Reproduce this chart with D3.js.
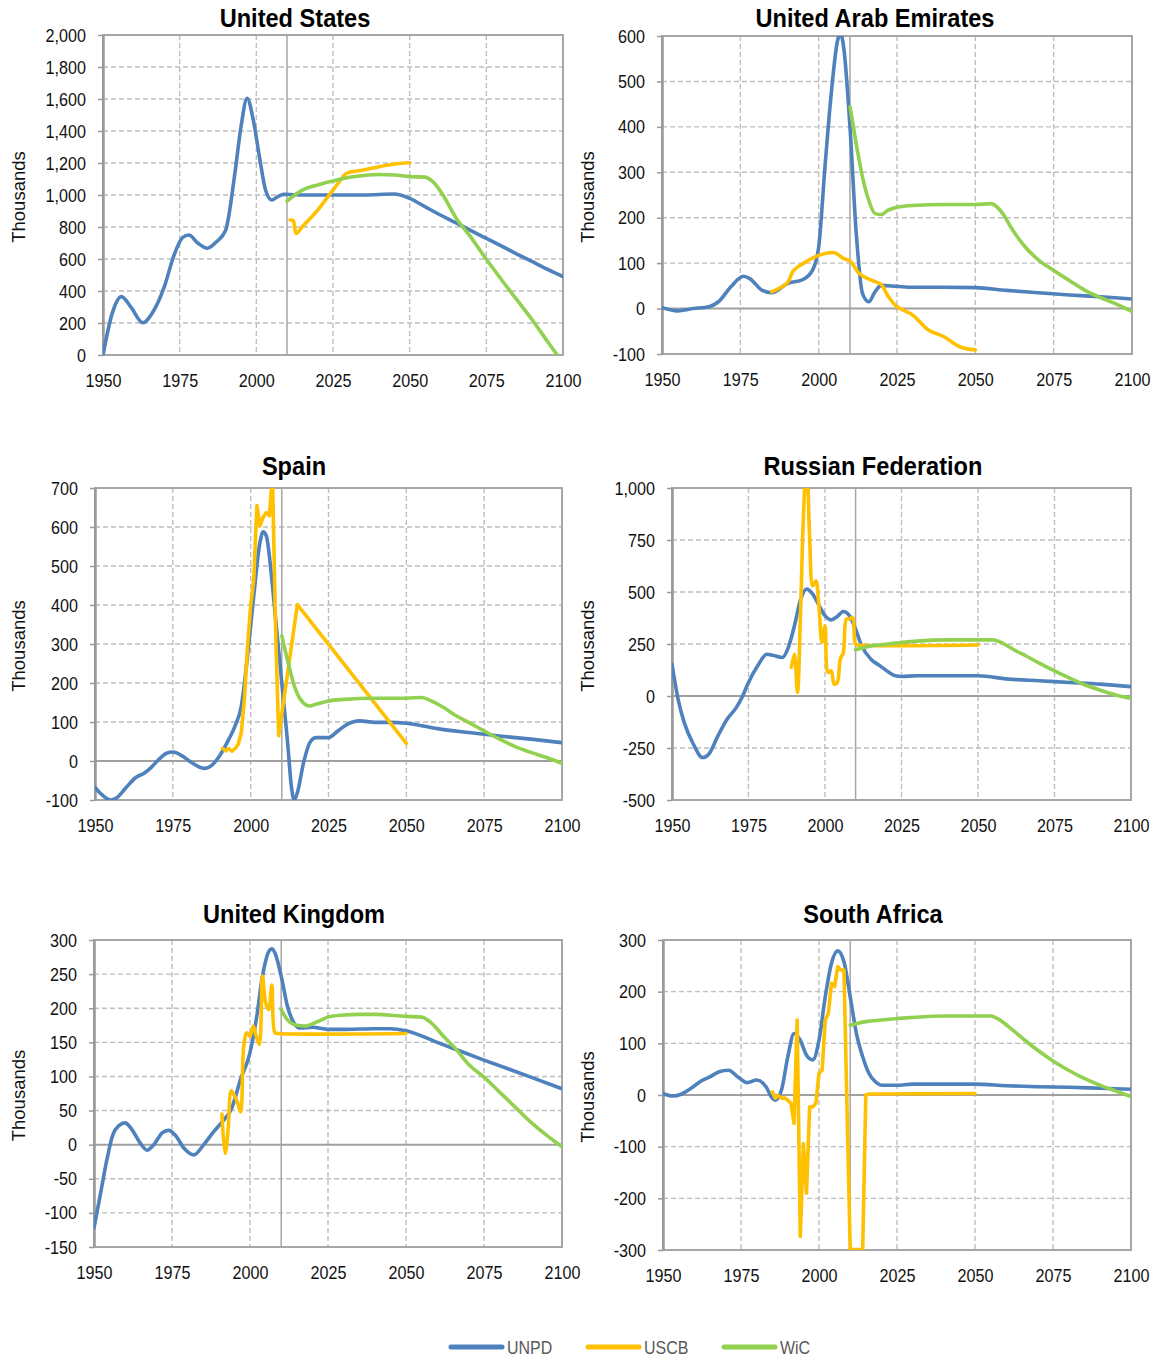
<!DOCTYPE html>
<html>
<head>
<meta charset="utf-8">
<script src="https://cdn.jsdelivr.net/npm/d3@7"></script>
<style>
  body { margin: 0; background: #fff; }
  svg text { font-family: "Liberation Sans", Arial, sans-serif; }
</style>
</head>
<body>
<svg id="chart" width="1159" height="1358"></svg>
<script>
// ---- data (thousands) ----
const seriesNames = ['UNPD', 'USCB', 'WiC'];
const xTicks = [1950, 1975, 2000, 2025, 2050, 2075, 2100];

const usTicks = [0, 200, 400, 600, 800, 1000, 1200, 1400, 1600, 1800, 2000];
const usUnpd = [[1950,0],[1953,260],[1956,365],[1959,302],[1963,202],[1966,260],[1970,427],[1973,615],[1976,735],[1978,750],[1981,698],[1984,667],[1987,708],[1990,781],[1993,1135],[1995,1427],[1997,1604],[1999,1469],[2001,1240],[2003,1031],[2005,969],[2007,990],[2009,1004],[2012,1002],[2015,1000],[2025,1000],[2035,1000],[2045,1006],[2050,979],[2055,927],[2060,875],[2065,827],[2070,777],[2075,729],[2080,681],[2085,631],[2090,583],[2095,535],[2100,490]];
const usUscb = [[2011,844],[2012,840],[2013,760],[2015,802],[2020,906],[2025,1031],[2029,1129],[2030,1140],[2035,1156],[2040,1177],[2045,1194],[2050,1202]];
const usWic = [[2010,962],[2015,1031],[2020,1063],[2025,1088],[2030,1110],[2035,1122],[2040,1128],[2045,1125],[2050,1115],[2055,1112],[2058,1075],[2061,995],[2065,860],[2070,735],[2075,598],[2080,469],[2085,344],[2090,219],[2095,83],[2100,-50]];

const uaeTicks = [-100, 0, 100, 200, 300, 400, 500, 600];
const uaeUnpd = [[1950,2],[1955,-5],[1960,0],[1965,4],[1968,15],[1972,48],[1976,71],[1978,66],[1982,40],[1985,35],[1990,55],[1995,64],[1998,84],[2000,135],[2002,311],[2004,472],[2006,589],[2007,605],[2008,574],[2010,399],[2012,165],[2014,33],[2016,15],[2018,37],[2020,51],[2025,49],[2030,47],[2040,47],[2050,46],[2060,40],[2070,35],[2080,30],[2090,26],[2100,21]];
const uaeUscb = [[1985,37],[1990,57],[1992,84],[1995,99],[2000,117],[2005,123],[2008,110],[2010,105],[2013,77],[2017,62],[2020,53],[2022,29],[2025,4],[2030,-14],[2035,-47],[2040,-62],[2045,-84],[2050,-91]];
const uaeWic = [[2010,444],[2012,362],[2014,289],[2016,238],[2018,209],[2020,207],[2022,216],[2025,223],[2030,227],[2040,229],[2050,229],[2055,231],[2058,216],[2062,172],[2066,135],[2070,108],[2075,84],[2080,62],[2085,40],[2090,24],[2095,10],[2100,-6]];

const esTicks = [-100, 0, 100, 200, 300, 400, 500, 600, 700];
const esUnpd = [[1950,-68],[1952,-85],[1955,-100],[1957,-94],[1960,-68],[1963,-43],[1966,-30],[1968,-17],[1970,0],[1973,20],[1975,23],[1978,13],[1981,-4],[1985,-19],[1987,-14],[1990,13],[1993,56],[1995,90],[1997,141],[1999,270],[2001,424],[2003,561],[2004,588],[2005,578],[2007,449],[2008,366],[2010,200],[2012,35],[2013,-60],[2014,-100],[2015,-81],[2017,-4],[2019,47],[2021,60],[2025,60],[2028,77],[2031,94],[2035,103],[2040,99],[2045,99],[2050,97],[2060,83],[2070,73],[2080,64],[2090,56],[2100,47]];
const esUscb = [[1991,32],[1992,26],[1993,32],[1994,25],[1995,32],[1996,43],[1997,73],[1998,159],[1999,295],[2000,398],[2001,466],[2002,655],[2003,603],[2004,625],[2005,637],[2006,629],[2007,730],[2008,340],[2009,65],[2015,401],[2050,45]];
const esWic = [[2010,321],[2012,253],[2014,193],[2016,158],[2019,141],[2020,143],[2023,150],[2025,154],[2030,158],[2040,161],[2050,161],[2055,163],[2058,154],[2062,137],[2066,116],[2070,99],[2075,77],[2080,56],[2085,37],[2090,22],[2095,9],[2100,-6]];

const ruTicks = [-500, -250, 0, 250, 500, 750, 1000];
const ruUnpd = [[1950,153],[1952,-16],[1954,-128],[1957,-232],[1960,-296],[1962,-280],[1965,-192],[1968,-112],[1971,-56],[1973,-3],[1975,65],[1978,145],[1981,201],[1983,196],[1986,185],[1988,233],[1990,337],[1992,463],[1994,514],[1996,490],[1998,437],[2000,386],[2002,366],[2004,382],[2006,406],[2008,386],[2010,321],[2012,241],[2015,177],[2018,145],[2021,113],[2023,97],[2025,94],[2030,97],[2040,97],[2050,97],[2060,81],[2070,73],[2080,65],[2090,57],[2100,45]];
const ruUscb = [[1989,137],[1990,201],[1991,17],[1992,402],[1993,883],[1994,1150],[1995,754],[1996,530],[1997,554],[1998,434],[1999,257],[2000,337],[2001,113],[2002,121],[2003,57],[2004,65],[2005,177],[2006,209],[2007,370],[2008,370],[2009,378],[2010,249],[2011,245],[2050,245]];
const ruWic = [[2010,222],[2015,241],[2020,249],[2025,257],[2030,264],[2040,270],[2050,270],[2055,270],[2058,254],[2062,220],[2066,190],[2070,158],[2075,121],[2080,86],[2085,53],[2090,28],[2095,5],[2100,-11]];

const ukTicks = [-150, -100, -50, 0, 50, 100, 150, 200, 250, 300];
const ukUnpd = [[1950,-122],[1952,-74],[1954,-25],[1956,14],[1958,28],[1960,32],[1962,23],[1965,1],[1967,-8],[1969,-1],[1972,18],[1974,21],[1976,14],[1979,-6],[1982,-15],[1985,-1],[1988,17],[1991,33],[1994,52],[1997,96],[2000,135],[2002,183],[2004,247],[2006,283],[2007,287],[2008,281],[2010,247],[2012,203],[2014,179],[2016,171],[2020,172],[2025,169],[2030,169],[2040,170],[2045,170],[2050,167],[2060,150],[2075,124],[2090,99],[2100,82]];
const ukUscb = [[1991,45],[1992,-13],[1993,23],[1994,79],[1995,72],[1996,62],[1997,48],[1998,145],[1999,164],[2000,159],[2001,174],[2002,159],[2003,147],[2004,247],[2005,208],[2006,198],[2007,234],[2008,164],[2009,163],[2050,163]];
const ukWic = [[2010,198],[2012,183],[2015,175],[2018,174],[2020,177],[2023,183],[2025,187],[2030,190],[2035,191],[2040,191],[2050,188],[2055,187],[2058,179],[2062,159],[2066,140],[2070,118],[2075,99],[2080,77],[2085,55],[2090,33],[2095,14],[2100,-3]];

const zaTicks = [-300, -200, -100, 0, 100, 200, 300];
const zaUnpd = [[1950,3],[1953,-2],[1956,2],[1959,13],[1962,26],[1965,35],[1968,45],[1971,48],[1974,35],[1977,24],[1980,29],[1983,16],[1985,-6],[1986,-10],[1988,10],[1990,74],[1992,119],[1994,106],[1996,77],[1998,68],[2000,106],[2002,190],[2004,255],[2006,279],[2008,258],[2010,190],[2012,119],[2014,74],[2016,42],[2018,26],[2020,19],[2025,19],[2030,21],[2040,21],[2050,21],[2060,18],[2070,16],[2080,15],[2090,13],[2100,11]];
const zaUscb = [[1985,6],[1986,-6],[1987,-1],[1988,-6],[1989,-6],[1990,-10],[1991,-16],[1992,-55],[1993,145],[1994,-274],[1995,-94],[1996,-190],[1997,-23],[1998,-23],[1999,-16],[2000,42],[2001,48],[2002,145],[2003,158],[2004,216],[2005,210],[2006,248],[2007,242],[2008,242],[2009,-30],[2010,-299],[2014,-299],[2015,0],[2016,2],[2050,3]];
const zaWic = [[2010,135],[2015,142],[2020,145],[2025,148],[2030,150],[2040,153],[2050,153],[2055,153],[2058,145],[2062,126],[2066,106],[2070,87],[2075,66],[2080,48],[2085,32],[2090,19],[2095,8],[2100,-3]];

// ---- layout ----
const colors = ['#4F81BD', '#FFC000', '#92D050'];
const smooth = d3.curveMonotoneX;
const spiky = d3.curveCatmullRom.alpha(0.5);
const straight = d3.curveLinear;

const panels = [
  { title: 'United States', ticks: usTicks, series: [usUnpd, usUscb, usWic], curves: [smooth, spiky, smooth], left: 103, top: 35, w: 460, h: 320, tx: 295, ty: 27, ax: 18 },
  { title: 'United Arab Emirates', ticks: uaeTicks, series: [uaeUnpd, uaeUscb, uaeWic], curves: [smooth, spiky, smooth], left: 662, top: 36, w: 470, h: 318, tx: 875, ty: 27, ax: 587 },
  { title: 'Spain', ticks: esTicks, series: [esUnpd, esUscb, esWic], curves: [smooth, straight, smooth], left: 95, top: 488, w: 467, h: 312, tx: 294, ty: 475, ax: 18 },
  { title: 'Russian Federation', ticks: ruTicks, series: [ruUnpd, ruUscb, ruWic], curves: [smooth, spiky, smooth], left: 672, top: 488, w: 459, h: 312, tx: 873, ty: 475, ax: 587 },
  { title: 'United Kingdom', ticks: ukTicks, series: [ukUnpd, ukUscb, ukWic], curves: [smooth, spiky, smooth], left: 94, top: 940, w: 468, h: 307, tx: 294, ty: 923, ax: 18 },
  { title: 'South Africa', ticks: zaTicks, series: [zaUnpd, zaUscb, zaWic], curves: [smooth, straight, smooth], left: 663, top: 940, w: 468, h: 310, tx: 873, ty: 923, ax: 587 }
];

const svg = d3.select('#chart');
const fmt = d3.format(',');
const tickLabel = d => (d < 0 ? '-' : '') + fmt(Math.abs(d));

// no narrow face installed: squeeze the regular one
function narrow(sel, k) {
  sel.each(function () {
    const len = this.getComputedTextLength();
    d3.select(this).attr('textLength', len * k).attr('lengthAdjust', 'spacingAndGlyphs');
  });
}

panels.forEach((p, i) => {
  const x = d3.scaleLinear().domain([1950, 2100]).range([p.left, p.left + p.w]);
  const y = d3.scaleLinear().domain([p.ticks[0], p.ticks[p.ticks.length - 1]]).range([p.top + p.h, p.top]);
  const g = svg.append('g');

  // dashed grid
  g.append('g').selectAll('line').data(xTicks.slice(1, -1)).join('line')
    .attr('x1', d => x(d)).attr('x2', d => x(d))
    .attr('y1', p.top).attr('y2', p.top + p.h)
    .attr('stroke', '#bdbdbd').attr('stroke-width', 1.4).attr('stroke-dasharray', '5,3');
  g.append('g').selectAll('line').data(p.ticks.slice(1, -1).filter(d => d !== 0)).join('line')
    .attr('x1', p.left).attr('x2', p.left + p.w)
    .attr('y1', d => y(d)).attr('y2', d => y(d))
    .attr('stroke', '#bdbdbd').attr('stroke-width', 1.4).attr('stroke-dasharray', '5,3');

  // plot border
  g.append('rect').attr('x', p.left).attr('y', p.top).attr('width', p.w).attr('height', p.h)
    .attr('fill', 'none').attr('stroke', '#a6a6a6').attr('stroke-width', 2);

  // zero line and 2010 marker
  if (p.ticks[0] < 0) {
    g.append('line').attr('x1', p.left).attr('x2', p.left + p.w)
      .attr('y1', y(0)).attr('y2', y(0)).attr('stroke', '#a0a0a0').attr('stroke-width', 2);
  }
  g.append('line').attr('x1', x(2010)).attr('x2', x(2010))
    .attr('y1', p.top).attr('y2', p.top + p.h).attr('stroke', '#a6a6a6').attr('stroke-width', 1.5);

  // y axis
  const ya = g.append('g').attr('transform', `translate(${p.left},0)`)
    .call(d3.axisLeft(y).tickValues(p.ticks).tickFormat(tickLabel).tickSizeInner(5).tickSizeOuter(0).tickPadding(12));
  ya.select('.domain').attr('stroke', '#999').attr('stroke-width', 2.5);
  ya.selectAll('.tick line').attr('stroke', '#999').attr('stroke-width', 1.5);
  ya.selectAll('text').attr('font-size', 19).attr('fill', '#111')
    .style('font-family', '"Liberation Sans", Arial, sans-serif').call(narrow, 0.85);

  // x axis labels
  const xa = g.append('g').attr('transform', `translate(0,${p.top + p.h})`)
    .call(d3.axisBottom(x).tickValues(xTicks).tickFormat(d3.format('d')).tickSize(0).tickPadding(19));
  xa.select('.domain').remove();
  xa.selectAll('text').attr('font-size', 19).attr('fill', '#111')
    .style('font-family', '"Liberation Sans", Arial, sans-serif').call(narrow, 0.85);

  // titles
  g.append('text').attr('x', p.tx).attr('y', p.ty).attr('text-anchor', 'middle')
    .attr('font-size', 26.5).attr('font-weight', 'bold').text(p.title).call(narrow, 0.89);
  g.append('text')
    .attr('transform', `translate(${p.ax + 7},${p.top + p.h / 2 + 2}) rotate(-90)`)
    .attr('text-anchor', 'middle').attr('font-size', 18.5).attr('fill', '#111').text('Thousands');

  // series
  svg.append('clipPath').attr('id', 'clip' + i).append('rect')
    .attr('x', p.left).attr('y', p.top).attr('width', p.w).attr('height', p.h);
  g.append('g').attr('clip-path', `url(#clip${i})`)
    .selectAll('path').data(p.series).join('path')
    .attr('d', (d, k) => d3.line().x(v => x(v[0])).y(v => y(v[1])).curve(p.curves[k])(d))
    .attr('fill', 'none')
    .attr('stroke', (d, k) => colors[k]).attr('stroke-width', 3.6)
    .attr('stroke-linejoin', 'round').attr('stroke-linecap', 'round');
});

// legend
const legendX = [451, 588, 724];
const leg = svg.append('g').selectAll('g').data(seriesNames).join('g')
  .attr('transform', (d, k) => `translate(${legendX[k]},1347)`);
leg.append('line').attr('x1', 0).attr('x2', 51).attr('y1', 0).attr('y2', 0)
  .attr('stroke', (d, k) => colors[k]).attr('stroke-width', 5).attr('stroke-linecap', 'round');
leg.append('text').attr('x', 56).attr('y', 7).attr('font-size', 19).attr('fill', '#595959')
  .text(d => d).call(narrow, 0.84);
</script>
</body>
</html>
